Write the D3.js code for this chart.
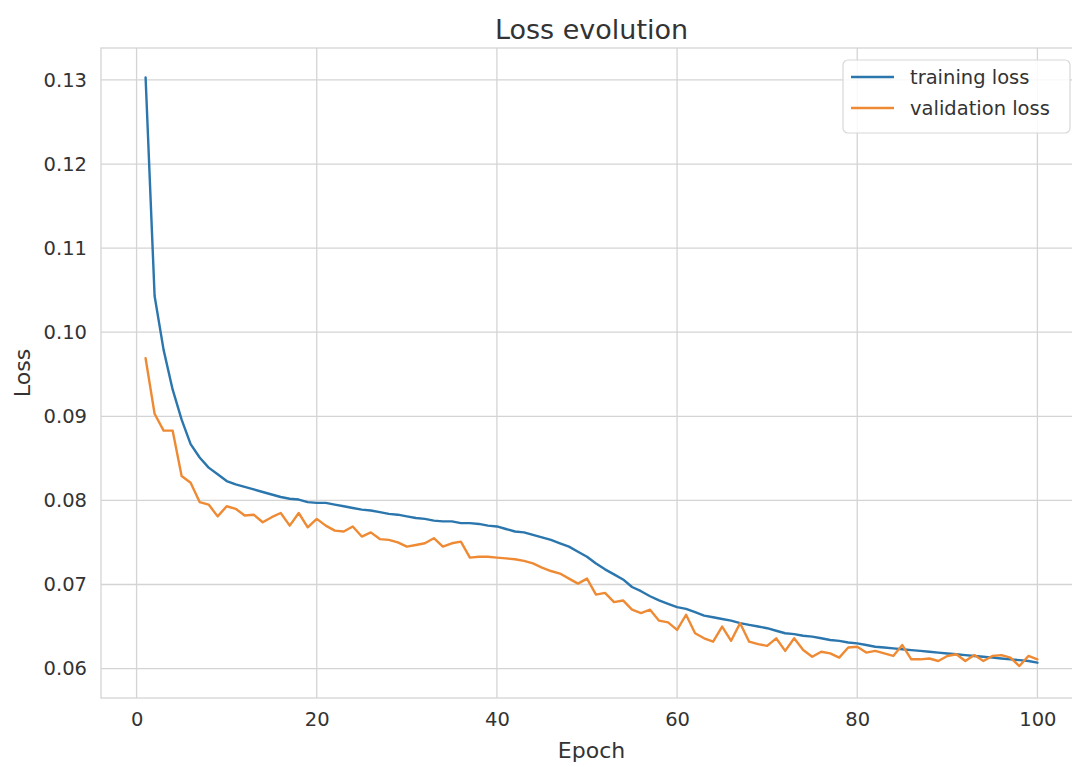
<!DOCTYPE html>
<html lang="en">
<head>
    <meta charset="UTF-8">
    <title>Loss evolution</title>
    <script src="https://cdn.jsdelivr.net/npm/d3@7"></script>
    <style>
        body { margin: 0; background: #fff; }
        svg { display: block; font-family: "DejaVu Sans", sans-serif; }
    </style>
</head>
<body>
    <div id="chart"></div>
    <script>
        // epochs 1..100
        const epochs = d3.range(1, 101);

        // training loss
        const trainingLoss = [
            0.1303, 0.1043, 0.0979, 0.0932, 0.0896, 0.0867, 0.0851, 0.0839, 0.0831, 0.0823,
            0.0819, 0.0816, 0.0813, 0.0810, 0.0807, 0.0804, 0.0802, 0.0801, 0.0798, 0.0797,
            0.0797, 0.0795, 0.0793, 0.0791, 0.0789, 0.0788, 0.0786, 0.0784, 0.0783, 0.0781,
            0.0779, 0.0778, 0.0776, 0.0775, 0.0775, 0.0773, 0.0773, 0.0772, 0.0770, 0.0769,
            0.0766, 0.0763, 0.0762, 0.0759, 0.0756, 0.0753, 0.0749, 0.0745, 0.0739, 0.0733,
            0.0725, 0.0718, 0.0712, 0.0706, 0.0697, 0.0692, 0.0686, 0.0681, 0.0677, 0.0673,
            0.0671, 0.0667, 0.0663, 0.0661, 0.0659, 0.0657, 0.0654, 0.0652, 0.0650, 0.0648,
            0.0645, 0.0642, 0.0641, 0.0639, 0.0638, 0.0636, 0.0634, 0.0633, 0.0631, 0.0630,
            0.0628, 0.0626, 0.0625, 0.0624, 0.0623, 0.0622, 0.0621, 0.0620, 0.0619, 0.0618,
            0.0617, 0.0616, 0.0615, 0.0614, 0.0613, 0.0612, 0.0611, 0.0610, 0.0609, 0.0607
        ];

        // validation loss
        const validationLoss = [
            0.0969, 0.0903, 0.0883, 0.0883, 0.0829, 0.0821, 0.0798, 0.0795, 0.0781, 0.0793,
            0.0790, 0.0782, 0.0783, 0.0774, 0.0780, 0.0785, 0.0770, 0.0785, 0.0768, 0.0778,
            0.0770, 0.0764, 0.0763, 0.0769, 0.0757, 0.0762, 0.0754, 0.0753, 0.0750, 0.0745,
            0.0747, 0.0749, 0.0755, 0.0745, 0.0749, 0.0751, 0.0732, 0.0733, 0.0733, 0.0732,
            0.0731, 0.0730, 0.0728, 0.0725, 0.0720, 0.0716, 0.0713, 0.0707, 0.0701, 0.0707,
            0.0688, 0.0690, 0.0679, 0.0681, 0.0670, 0.0666, 0.0670, 0.0657, 0.0655, 0.0646,
            0.0664, 0.0642, 0.0636, 0.0632, 0.0650, 0.0633, 0.0654, 0.0632, 0.0629, 0.0627,
            0.0636, 0.0621, 0.0636, 0.0622, 0.0614, 0.0620, 0.0618, 0.0613, 0.0625, 0.0626,
            0.0619, 0.0621, 0.0618, 0.0615, 0.0628, 0.0611, 0.0611, 0.0612, 0.0609, 0.0615,
            0.0617, 0.0609, 0.0616, 0.0609, 0.0615, 0.0616, 0.0613, 0.0603, 0.0615, 0.0611
        ];

        const seriesNames = ["training loss", "validation loss"];
        const seriesColors = ["#2b76ad", "#ef8a34"];
        const xTicks = [0, 20, 40, 60, 80, 100];
        const yTicks = [0.06, 0.07, 0.08, 0.09, 0.10, 0.11, 0.12, 0.13];

        const W = 1072, H = 767;
        const plot = { left: 101, right: 1082, top: 48, bottom: 698 };

        const svg = d3.select("#chart").append("svg")
            .attr("width", W)
            .attr("height", H);

        // matplotlib-like 5% margins around data
        const x = d3.scaleLinear()
            .domain([-3.95, 104.95])
            .range([plot.left, plot.right]);

        const y = d3.scaleLinear()
            .domain([0.0565, 0.1338])
            .range([plot.bottom, plot.top]);

        const gridColor = "#d4d4d4";
        const textColor = "#333333";

        // grid
        svg.append("g")
            .selectAll("line")
            .data(xTicks)
            .join("line")
            .attr("x1", d => x(d)).attr("x2", d => x(d))
            .attr("y1", plot.top).attr("y2", plot.bottom)
            .attr("stroke", gridColor)
            .attr("stroke-width", 1.3);

        svg.append("g")
            .selectAll("line")
            .data(yTicks)
            .join("line")
            .attr("x1", plot.left).attr("x2", plot.right)
            .attr("y1", d => y(d)).attr("y2", d => y(d))
            .attr("stroke", gridColor)
            .attr("stroke-width", 1.3);

        // frame
        svg.append("rect")
            .attr("x", plot.left).attr("y", plot.top)
            .attr("width", plot.right - plot.left)
            .attr("height", plot.bottom - plot.top)
            .attr("fill", "none")
            .attr("stroke", gridColor)
            .attr("stroke-width", 1.3);

        // axes (no tick marks, only labels)
        const xAxis = svg.append("g")
            .attr("transform", `translate(0,${plot.bottom})`)
            .call(d3.axisBottom(x).tickValues(xTicks).tickSize(0).tickPadding(14).tickFormat(d3.format("d")));
        const yAxis = svg.append("g")
            .attr("transform", `translate(${plot.left},0)`)
            .call(d3.axisLeft(y).tickValues(yTicks).tickSize(0).tickPadding(14).tickFormat(d3.format(".2f")));

        [xAxis, yAxis].forEach(g => {
            g.select(".domain").remove();
            g.selectAll("text")
                .attr("fill", textColor)
                .style("font-size", "19.5px")
                .style("font-family", "DejaVu Sans");
        });

        // lines
        const line = d3.line()
            .x((d, i) => x(epochs[i]))
            .y(d => y(d));

        [trainingLoss, validationLoss].forEach((vals, k) => {
            svg.append("path")
                .datum(vals)
                .attr("fill", "none")
                .attr("stroke", seriesColors[k])
                .attr("stroke-width", 2.4)
                .attr("stroke-linejoin", "round")
                .attr("stroke-linecap", "round")
                .attr("d", line);
        });

        // title and axis labels
        svg.append("text")
            .attr("x", (plot.left + plot.right) / 2)
            .attr("y", 39)
            .attr("text-anchor", "middle")
            .attr("fill", textColor)
            .style("font-size", "27px")
            .text("Loss evolution");

        svg.append("text")
            .attr("x", (plot.left + plot.right) / 2)
            .attr("y", 758)
            .attr("text-anchor", "middle")
            .attr("fill", textColor)
            .style("font-size", "22px")
            .text("Epoch");

        svg.append("text")
            .attr("transform", `translate(30,${(plot.top + plot.bottom) / 2}) rotate(-90)`)
            .attr("text-anchor", "middle")
            .attr("fill", textColor)
            .style("font-size", "22px")
            .text("Loss");

        // legend
        const legend = svg.append("g").attr("transform", "translate(843,60)");
        legend.append("rect")
            .attr("width", 227).attr("height", 73)
            .attr("rx", 5)
            .attr("fill", "#fff").attr("fill-opacity", 0.85)
            .attr("stroke", "#d8d8d8").attr("stroke-width", 1.2);

        seriesNames.forEach((name, k) => {
            const row = legend.append("g").attr("transform", `translate(0,${17 + k * 31})`);
            row.append("line")
                .attr("x1", 8).attr("x2", 51)
                .attr("stroke", seriesColors[k])
                .attr("stroke-width", 2.4);
            row.append("text")
                .attr("x", 67).attr("y", 7)
                .attr("fill", textColor)
                .style("font-size", "19.5px")
                .text(name);
        });
    </script>
</body>
</html>
